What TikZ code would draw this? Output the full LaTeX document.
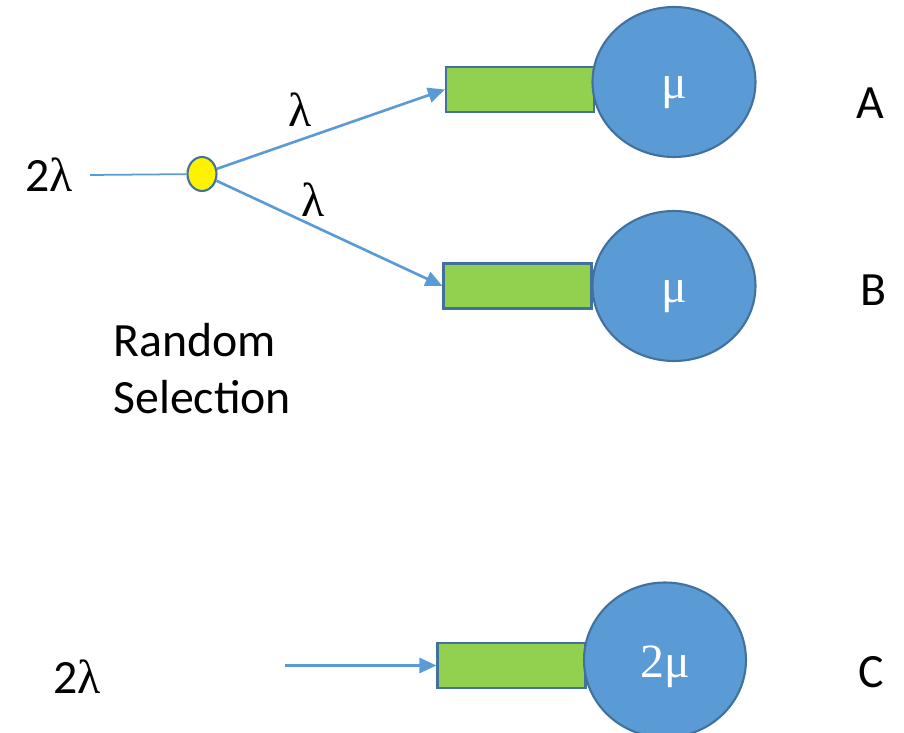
\documentclass[tikz,border=0pt]{standalone}
\usepackage{fontspec}
\setmainfont{Carlito}
\newfontfamily\greekfont{Liberation Serif}
\usepackage{tikz}
\usetikzlibrary{shapes.geometric,arrows.meta}
\definecolor{srvblue}{HTML}{5B9BD5}
\definecolor{edgeblue}{HTML}{41719C}
\definecolor{qgreen}{HTML}{92D050}
\tikzset{
    queuebox/.style={draw=edgeblue, fill=qgreen, line width=1.2pt, minimum width=2.96cm, minimum height=0.9cm, inner sep=0pt},
    server/.style={ellipse, draw=edgeblue, fill=srvblue, line width=1.2pt, minimum width=3.26cm, minimum height=3cm, inner sep=0pt},
    flow/.style={draw=srvblue, line width=1.5pt, -{Triangle[length=0.34cm,width=0.3cm]}},
    lbl/.style={font=\fontsize{27.2}{32.4}\selectfont, inner sep=0pt},
    rate/.style={lbl, text=white, font=\fontsize{27.2}{32.4}\greekfont},
}

\begin{document}
\begin{tikzpicture}[x=0.02cm, y=-0.02cm]
        \useasboundingbox (0,0) rectangle (904,733);
        % splitting into two queues
        \node (inA) at (49,175) [lbl] {2{\greekfont λ}};
        \node (splitter) at (202,174) [ellipse, draw=edgeblue, fill=yellow, line width=1.2pt, minimum width=0.58cm, minimum height=0.68cm, inner sep=0pt] {};
        \node (qa) at (520,89.5) [queuebox] {};
        \node (sa) at (674,82) [server] {};
        \node (mua) at (674,93) [rate] {μ};
        \node (qb) at (517.5,286) [queuebox] {};
        \node (sb) at (674,286) [server] {};
        \node (mub) at (674,297) [rate] {μ};
        \draw[srvblue, line width=1pt] (90,175) -- (splitter);
        \draw[flow] (splitter) -- (qa.west);
        \draw[flow] (splitter) -- (qb.west);
        \node (lama) at (300,110) [lbl] {\greekfont λ};
        \node (lamb) at (313,200) [lbl] {\greekfont λ};
        \node (labA) at (870,103) [lbl] {A};
        \node (labB) at (873,290) [lbl] {B};
        \node (sel) at (113,369) [lbl, anchor=west, align=left] {Random\\Selection};
        % one queue, double rate
        \node (inC) at (77,677) [lbl] {2{\greekfont λ}};
        \coordinate (srcC) at (285,665.5);
        \node (qc) at (511.5,665.5) [queuebox] {};
        \node (sc) at (665,660) [server, minimum width=3.24cm, minimum height=3.1cm] {};
        \node (muc) at (665,667) [rate] {2μ};
        \draw[flow] (srcC) -- (qc.west);
        \node (labC) at (871,672) [lbl] {C};
    \end{tikzpicture}
\end{document}
